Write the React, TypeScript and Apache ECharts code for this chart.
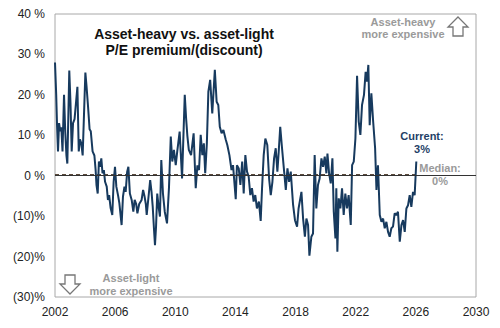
import React, { useEffect, useRef } from "react";
import * as echarts from "echarts";

const years: number[] = [
  2002.0, 2002.08, 2002.14, 2002.2, 2002.27, 2002.35, 2002.42, 2002.5, 2002.6, 2002.68, 2002.76, 2002.82, 2002.95,
  2003.03, 2003.11, 2003.2, 2003.3, 2003.49, 2003.58, 2003.66, 2003.75, 2003.84, 2004.02, 2004.1, 2004.2, 2004.3,
  2004.38, 2004.5, 2004.62, 2004.7, 2004.76, 2004.84, 2004.92, 2005.0, 2005.08, 2005.16, 2005.25, 2005.33, 2005.44,
  2005.52, 2005.6, 2005.7, 2005.81, 2005.9, 2005.99, 2006.08, 2006.2, 2006.28, 2006.43, 2006.52, 2006.62, 2006.7,
  2006.8, 2006.88, 2006.98, 2007.1, 2007.21, 2007.3, 2007.4, 2007.48, 2007.6, 2007.76, 2007.86, 2007.95, 2008.04,
  2008.1, 2008.22, 2008.33, 2008.42, 2008.5, 2008.58, 2008.65, 2008.72, 2008.8, 2008.9, 2008.98, 2009.07, 2009.18,
  2009.3, 2009.45, 2009.58, 2009.7, 2009.8, 2009.91, 2010.03, 2010.13, 2010.29, 2010.45, 2010.63, 2010.72, 2010.8,
  2010.9, 2011.05, 2011.22, 2011.36, 2011.47, 2011.58, 2011.69, 2011.8, 2011.9, 2011.99, 2012.1, 2012.2, 2012.32,
  2012.46, 2012.63, 2012.75, 2012.86, 2012.96, 2013.08, 2013.2, 2013.35, 2013.46, 2013.6, 2013.74, 2013.84, 2014.02,
  2014.1, 2014.22, 2014.33, 2014.45, 2014.55, 2014.66, 2014.77, 2014.88, 2014.99, 2015.1, 2015.21, 2015.32, 2015.43,
  2015.56, 2015.68, 2015.77, 2015.88, 2015.99, 2016.12, 2016.24, 2016.35, 2016.46, 2016.57, 2016.68, 2016.79,
  2016.88, 2016.98, 2017.1, 2017.24, 2017.35, 2017.46, 2017.57, 2017.68, 2017.83, 2017.96, 2018.1, 2018.2, 2018.39,
  2018.5, 2018.62, 2018.72, 2018.83, 2018.92, 2019.05, 2019.16, 2019.27, 2019.38, 2019.49, 2019.6, 2019.72, 2019.83,
  2019.94, 2020.05, 2020.12, 2020.23, 2020.34, 2020.45, 2020.54, 2020.65, 2020.71, 2020.78, 2020.87, 2020.98,
  2021.09, 2021.2, 2021.31, 2021.42, 2021.53, 2021.67, 2021.76, 2021.87, 2021.98, 2022.09, 2022.2, 2022.31, 2022.42,
  2022.55, 2022.66, 2022.75, 2022.84, 2022.93, 2023.04, 2023.16, 2023.29, 2023.38, 2023.48, 2023.6, 2023.71,
  2023.82, 2023.93, 2024.04, 2024.15, 2024.26, 2024.37, 2024.48, 2024.59, 2024.7, 2024.81, 2024.93, 2025.04,
  2025.15, 2025.26, 2025.37, 2025.48, 2025.59, 2025.7, 2025.81, 2025.92, 2026.03,
];

const premium: number[] = [
  28, 20, 12, 6, 13, 11, 12, 6, 20, 11, 5, 3, 26,
  18, 6, 13, 14, 22, 6, 9, 8, 5, 25.5, 22, 17, 11.5,
  11, 6, 5, 1.5, -2.3, -4.4, 3.5, 2.2, 4.3, 0.6, 1.4, -1.5, -2.7,
  -6, -4.8, -8, -9.7, -1.5, 2.2, -2.7, -5, -6.8, -12.2, -5.2, -2.7, -4,
  1, 2.2, -4.4, -6, -8.9, -6, -7, -9.3, -7, -6, -3.5, -5, -7,
  -9.7, -5.2, -1.1, -4, -7.7, -13, -17.2, -12.6, -4.4, -8, -10.1, 3.9, -4.4,
  -8.9, -11.8, -3, 9.7, 3.5, 6.4, 2.6, 6, 10.9, -0.7, 20, 14.2, 10,
  6.4, 5.1, 10.5, -3.1, 2.6, 1.4, 10.1, 5.1, 8, 0.6, 8, 20.8, 23.7,
  15.4, 26.2, 18.3, 17.5, 12.1, 10.5, 11.3, 9, 7.6, 5.1, 1.4, 2.6, -5.8,
  2.6, 1.8, -2.3, 3.5, -4.4, 5.1, 1, -0.2, -4.8, -3.1, -6.4, -4.8, -8.1,
  -6.4, -11.2, -3.1, 5.1, 9.2, 7.6, -0.7, -4.8, -1.5, 4.3, 6.8, 1,
  6, 12.1, 6.8, 1, -3.5, 1.8, -1.5, 1, -7, -11, -12.6, -8.1, -4,
  -10.6, -15.1, -10.6, -12.2, -19.8, -15.1, -14.3, 5.1, -8.1, -2.3, -0.7, 4.3, 2.2,
  4.7, 0.6, 5.5, 0.6, -1.9, 4.3, -8.9, -15.5, -3.1, -18.8, -5.6, -8.1,
  -3.1, -9.7, -4.4, -8.1, -4.8, -12.2, 2.6, 3.5, 9.2, 24.7, 13.4, 10.1, 17.5,
  20, 25.7, 23.3, 27.4, 12.5, 20.4, 13.4, 6.8, -3.5, 2.6, -9.7, -11.4,
  -10.6, -13, -11.4, -13.9, -15.1, -13, -12.6, -9.3, -9.7, -8.9, -16.3, -12.2,
  -11, -13.9, -8.1, -7.3, -4.8, -7.7, -4, -4.8, 3.5,
];

const medianValue = 0.25;
const medianSpan: number[] = [2002, 2026.1];
const baseYear = 2002;
const xTickYears: number[] = [2002, 2006, 2010, 2014, 2018, 2022, 2026, 2030];
const yTicks: number[] = [-30, -20, -10, 0, 10, 20, 30, 40];

function fmtY(v: number): string {
  if (v < 0) return `(${-v})%`;
  return `${v} %`;
}

export default function App() {
  const ref = useRef<HTMLDivElement>(null);
  useEffect(() => {
    if (!ref.current) return;
    const chart = echarts.init(ref.current, null, { renderer: "svg" });
    const lineData = years.map((y, i) => [y - baseYear, premium[i]]);
    const medData = medianSpan.map((y) => [y - baseYear, medianValue]);
    const font = "Arial, 'Liberation Sans', sans-serif";
    const upArrow = [[0, -10], [10, 0], [5, 0], [5, 9], [-5, 9], [-5, 0], [-10, 0]];
    const downArrow = upArrow.map(([a, b]) => [a, -b]);
    chart.setOption({
      animation: false,
      backgroundColor: "#fff",
      textStyle: { fontFamily: font },
      grid: {
        left: 55, right: 24, top: 14, bottom: 31,
        show: true, borderColor: "#a8a8a8", borderWidth: 1, backgroundColor: "transparent",
      },
      xAxis: {
        type: "value",
        min: xTickYears[0] - baseYear,
        max: xTickYears[xTickYears.length - 1] - baseYear,
        interval: 4,
        axisLine: { show: false },
        axisTick: { show: false },
        splitLine: { show: false },
        axisLabel: {
          formatter: (v: number) => String(v + baseYear),
          color: "#222", fontSize: 12, margin: 9, fontFamily: font,
        },
      },
      yAxis: {
        type: "value",
        min: yTicks[0],
        max: yTicks[yTicks.length - 1],
        interval: 10,
        axisLine: { show: false },
        axisTick: { show: false },
        splitLine: { show: false },
        axisLabel: { formatter: fmtY, color: "#222", fontSize: 12, margin: 10, fontFamily: font },
      },
      series: [
        {
          type: "line",
          data: medData,
          symbol: "none",
          lineStyle: { color: "#5b4a3c", width: 1.3, type: [4, 3] },
          z: 3,
          silent: true,
        },
        {
          type: "line",
          data: lineData,
          symbol: "none",
          lineStyle: { color: "#173a5e", width: 2 },
          z: 4,
          markLine: {
            silent: true,
            symbol: "none",
            label: { show: false },
            lineStyle: { color: "#333", width: 1.2, type: "solid" },
            data: [{ yAxis: 0 }],
          },
        },
      ],
      graphic: [
        {
          type: "text", x: 184, y: 26,
          style: {
            text: "Asset-heavy vs. asset-light\nP/E premium/(discount)",
            fontSize: 14, fontWeight: "bold", fill: "#111", align: "center",
            lineHeight: 16, fontFamily: font,
          },
        },
        {
          type: "text", x: 403, y: 16,
          style: {
            text: "Asset-heavy\nmore expensive", fontSize: 11, fontWeight: "bold", fill: "#9a9a9a",
            align: "center", lineHeight: 12, fontFamily: font,
          },
        },
        {
          type: "polygon", x: 458, y: 27,
          shape: { points: upArrow },
          style: { fill: "#fff", stroke: "#777", lineWidth: 1.3 },
        },
        {
          type: "text", x: 131, y: 271,
          style: {
            text: "Asset-light\nmore expensive", fontSize: 11, fontWeight: "bold", fill: "#9a9a9a",
            align: "center", lineHeight: 13, fontFamily: font,
          },
        },
        {
          type: "polygon", x: 70, y: 284,
          shape: { points: downArrow },
          style: { fill: "#fff", stroke: "#777", lineWidth: 1.3 },
        },
        {
          type: "text", x: 422, y: 129,
          style: {
            text: "Current:\n3%", fontSize: 11, fontWeight: "bold", fill: "#1f3f66",
            align: "center", lineHeight: 13, fontFamily: font,
          },
        },
        {
          type: "text", x: 440, y: 161,
          style: {
            text: "Median:\n0%", fontSize: 11, fontWeight: "bold", fill: "#9a9a9a",
            align: "center", lineHeight: 13, fontFamily: font,
          },
        },
      ],
    });
    return () => chart.dispose();
  }, []);
  return (
    <div
      ref={ref}
      style={{ position: "fixed", left: 0, top: 0, width: 500, height: 328, background: "#fff" }}
    />
  );
}
